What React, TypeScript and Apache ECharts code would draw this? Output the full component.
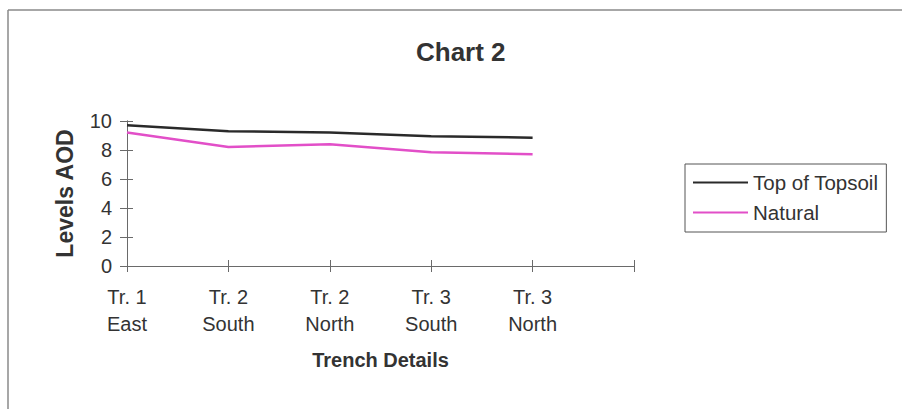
import React, { useEffect, useRef } from "react";
import * as echarts from "echarts";

const trenchNames = ["Tr. 1", "Tr. 2", "Tr. 2", "Tr. 3", "Tr. 3", ""];
const trenchSides = ["East", "South", "North", "South", "North", ""];
const topOfTopsoil = [9.7, 9.3, 9.2, 8.95, 8.85];
const natural = [9.2, 8.2, 8.4, 7.85, 7.7];
const yTicks = { min: 0, max: 10, interval: 2 };

const FONT = "'Liberation Sans', Arial, sans-serif";
const TXT = "#333";
const AXIS = "#6a6a6a";

export default function App() {
  const ref = useRef<HTMLDivElement>(null);
  useEffect(() => {
    if (!ref.current) return;
    const chart = echarts.init(ref.current, null, { renderer: "svg" });
    const categories = trenchNames.map((n, i) => (n ? n + "\n" + trenchSides[i] : ""));
    const xBase = {
      type: "category" as const,
      data: categories,
      boundaryGap: false,
      axisLine: { lineStyle: { color: AXIS, width: 1 } },
      splitLine: { show: false },
    };
    const yBase = {
      type: "value" as const,
      min: yTicks.min,
      max: yTicks.max,
      interval: yTicks.interval,
      axisLine: { show: true, lineStyle: { color: AXIS, width: 1 } },
      splitLine: { show: false },
    };
    chart.setOption({
      animation: false,
      backgroundColor: "#fff",
      textStyle: { fontFamily: FONT },
      title: {
        text: "Chart 2",
        left: 416,
        top: 39,
        padding: 0,
        textStyle: { fontSize: 26, fontWeight: "bold", color: TXT, fontFamily: FONT },
      },
      grid: { left: 127, right: 268, top: 121, bottom: 143, containLabel: false },
      legend: {
        left: 685,
        top: 164,
        orient: "vertical",
        padding: [8, 8, 9, 8],
        borderColor: "#555",
        borderWidth: 1,
        icon: "rect",
        itemWidth: 55,
        itemHeight: 2,
        itemGap: 9,
        textStyle: { fontSize: 20.5, color: TXT, fontFamily: FONT, lineHeight: 21, padding: [0, 0, 0, 0] },
        data: ["Top of Topsoil", "Natural"],
      },
      xAxis: [
        {
          ...xBase,
          axisTick: { show: true, length: 6, lineStyle: { color: AXIS } },
          axisLabel: {
            fontSize: 20,
            color: TXT,
            fontFamily: FONT,
            lineHeight: 27,
            margin: 17,
          },
          name: "Trench Details",
          nameLocation: "middle",
          nameGap: 84,
          nameTextStyle: { fontSize: 20, fontWeight: "bold", color: TXT, fontFamily: FONT },
        },
        {
          ...xBase,
          position: "bottom",
          axisTick: { show: true, inside: true, length: 6, lineStyle: { color: AXIS } },
          axisLabel: { show: false },
        },
      ],
      yAxis: [
        {
          ...yBase,
          axisTick: { show: true, length: 7, lineStyle: { color: AXIS } },
          axisLabel: { fontSize: 20, color: TXT, fontFamily: FONT, margin: 15 },
          name: "Levels AOD",
          nameLocation: "middle",
          nameGap: 51,
          nameTextStyle: { fontSize: 23, fontWeight: "bold", color: TXT, fontFamily: FONT },
        },
        {
          ...yBase,
          position: "left",
          axisTick: { show: true, inside: true, length: 6, lineStyle: { color: AXIS } },
          axisLabel: { show: false },
        },
      ],
      series: [
        {
          name: "Top of Topsoil",
          type: "line",
          data: topOfTopsoil,
          symbol: "none",
          color: "#2a2a2a",
          lineStyle: { color: "#2a2a2a", width: 2.5 },
        },
        {
          name: "Natural",
          type: "line",
          data: natural,
          symbol: "none",
          color: "#e24fc8",
          lineStyle: { color: "#e24fc8", width: 2.5 },
        },
      ],
      graphic: [
        { type: "line", shape: { x1: 8, y1: 10, x2: 902, y2: 10 }, style: { stroke: "#8a8a8a", lineWidth: 1.5 } },
        { type: "line", shape: { x1: 8, y1: 10, x2: 8, y2: 409 }, style: { stroke: "#8a8a8a", lineWidth: 1.5 } },
      ],
    });
    return () => chart.dispose();
  }, []);
  return <div ref={ref} style={{ position: "fixed", left: 0, top: 0, width: 902, height: 409 }} />;
}
